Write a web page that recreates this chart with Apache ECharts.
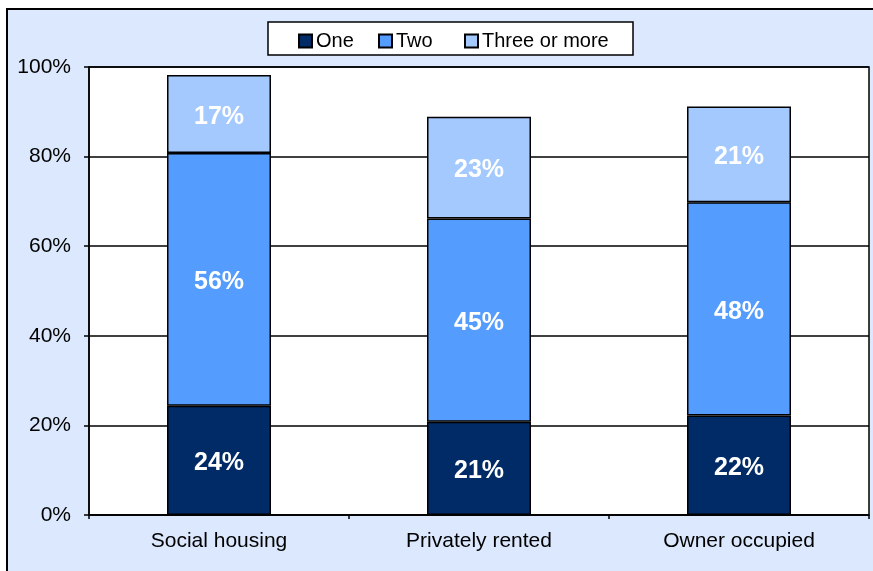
<!DOCTYPE html>
<html>
<head>
<meta charset="utf-8">
<script src="https://cdn.jsdelivr.net/npm/echarts@6/dist/echarts.min.js"></script>
<style>
  html, body { margin: 0; padding: 0; background: #fff; }
  #chart { width: 873px; height: 571px; }
</style>
</head>
<body>
<div id="chart"></div>
<script>
// Household tenure by number of people (share of households, %)
const categories = ['Social housing', 'Privately rented', 'Owner occupied'];
const seriesNames = ['One', 'Two', 'Three or more'];
const oneValues = [24.4, 20.8, 22.2];
const twoValues = [56.4, 45.4, 47.6];
const threeValues = [17.4, 22.7, 21.4];
const yTicks = [0, 20, 40, 60, 80, 100];

const colors = ['#002B66', '#559CFF', '#A3C9FF'];
const fontFamily = "'Liberation Sans', Arial, sans-serif";
const chart = echarts.init(document.getElementById('chart'), null, { renderer: 'canvas' });

const values = [oneValues, twoValues, threeValues];
const series = seriesNames.map((name, i) => ({
  name: name,
  type: 'bar',
  stack: 'total',
  barWidth: '40%',
  data: values[i],
  itemStyle: { color: colors[i], borderColor: '#000', borderWidth: 1.5 },
  label: {
    show: true,
    position: 'inside',
    offset: [0, 3],
    color: '#fff',
    fontFamily: fontFamily,
    fontWeight: 'bold',
    fontSize: 25,
    formatter: p => Math.round(p.value) + '%'
  },
  emphasis: { disabled: true }
}));

// one legend block per series so each entry sits at its own spot in the box
const legendLefts = [298, 378, 464];
const legends = seriesNames.map((name, i) => ({
  data: [name],
  left: legendLefts[i],
  top: 31,
  icon: 'rect',
  itemWidth: 13,
  itemHeight: 13,
  padding: 0,
  textStyle: { fontFamily: fontFamily, fontSize: 20, color: '#000', padding: [0, 0, 0, -1] },
  selectedMode: false
}));

chart.setOption({
  animation: false,
  color: colors,
  graphic: [
    {
      type: 'rect', z: -10, silent: true,
      shape: { x: 7, y: 9, width: 900, height: 600 },
      style: { fill: '#DBE8FD', stroke: '#000', lineWidth: 2 }
    },
    {
      type: 'rect', z: 1, silent: true,
      shape: { x: 268, y: 22, width: 365, height: 33 },
      style: { fill: '#fff', stroke: '#000', lineWidth: 1.5 }
    }
  ],
  legend: legends,
  grid: {
    left: 89, top: 67, right: 4, bottom: 56,
    show: true,
    backgroundColor: '#fff',
    borderColor: '#000',
    borderWidth: 1.5,
    containLabel: false,
    outerBoundsMode: 'none'
  },
  xAxis: {
    type: 'category',
    data: categories,
    axisLine: { lineStyle: { color: '#000', width: 1.5 } },
    axisTick: { show: true, length: 4, lineStyle: { color: '#000', width: 1.5 } },
    axisLabel: { color: '#000', fontFamily: fontFamily, fontSize: 21, margin: 16 }
  },
  yAxis: {
    type: 'value',
    min: yTicks[0],
    max: yTicks[yTicks.length - 1],
    interval: yTicks[1] - yTicks[0],
    axisLine: { show: true, lineStyle: { color: '#000', width: 1.5 } },
    axisTick: { show: true, length: 5, lineStyle: { color: '#000', width: 1.5 } },
    splitLine: { show: true, lineStyle: { color: '#000', width: 1.5 } },
    axisLabel: { color: '#000', fontFamily: fontFamily, fontSize: 21, margin: 18, formatter: '{value}%' }
  },
  series: series
});
</script>
</body>
</html>
